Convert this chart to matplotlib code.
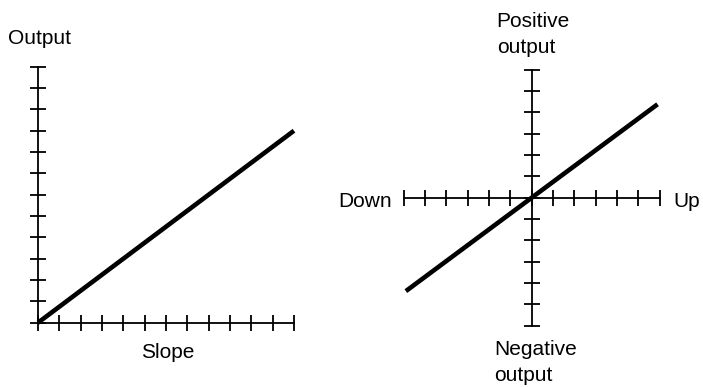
import matplotlib.pyplot as plt

plt.rcParams['font.family'] = ['Liberation Sans', 'DejaVu Sans']

# left diagram: output against slope (all in tick units)
slope_ticks = list(range(0, 13))
output_ticks = list(range(0, 13))
slope_line_x = [0, 12]
slope_line_y = [0, 9]

# right diagram: up / down against positive / negative output
updown_ticks = list(range(-6, 7))
posneg_ticks = list(range(-6, 7))
updown_line_x = [-5.9, 5.9]
updown_line_y = [-4.38, 4.38]

W, H = 703, 387
unit = 21.33  # pixels per tick step

fig = plt.figure(figsize=(W / 100, H / 100), dpi=100)

axis_lw = 1.3
tick_ms = 11
line_lw = 3.3
fs = 15


def make_axes(rect, origin_px):
    ax = fig.add_axes(rect)
    x0 = rect[0] * W
    x1 = (rect[0] + rect[2]) * W
    ox, oy = origin_px
    ax.set_xlim((x0 - ox) / unit, (x1 - ox) / unit)
    ax.set_ylim(-(H - oy) / unit, oy / unit)
    ax.axis('off')
    return ax


# ---- left ----
ax = make_axes([0, 0, 0.5, 1], (38, 322.7))
ax.plot([slope_ticks[0], slope_ticks[-1]], [0, 0], color='black', lw=axis_lw)
ax.plot([0, 0], [output_ticks[0], output_ticks[-1]], color='black', lw=axis_lw)
ax.plot(slope_ticks, [0] * len(slope_ticks), ls='none', marker='|',
        ms=tick_ms, mew=axis_lw, color='black')
ax.plot([0] * len(output_ticks), output_ticks, ls='none', marker='_',
        ms=tick_ms, mew=axis_lw, color='black')
ax.plot(slope_line_x, slope_line_y, color='black', lw=line_lw,
        solid_capstyle='butt')
ax.text(-1.41, 13.07, 'Output', fontsize=fs, ha='left', va='baseline')
ax.text(6.09, -1.67, 'Slope', fontsize=fs, ha='center', va='baseline')

# ---- right ----
ax2 = make_axes([0.5, 0, 0.5, 1], (531.7, 197.7))
ax2.plot([updown_ticks[0], updown_ticks[-1]], [0, 0], color='black', lw=axis_lw)
ax2.plot([0, 0], [posneg_ticks[0], posneg_ticks[-1]], color='black', lw=axis_lw)
ax2.plot(updown_ticks, [0] * len(updown_ticks), ls='none', marker='|',
         ms=tick_ms, mew=axis_lw, color='black')
ax2.plot([0] * len(posneg_ticks), posneg_ticks, ls='none', marker='_',
         ms=tick_ms, mew=axis_lw, color='black')
ax2.plot(updown_line_x, updown_line_y, color='black', lw=line_lw,
         solid_capstyle='butt')
ax2.text(-6.56, -0.45, 'Down', fontsize=fs, ha='right', va='baseline')
ax2.text(6.62, -0.45, 'Up', fontsize=fs, ha='left', va='baseline')
# baseline of the last line sets the position of these two-line labels
ax2.text(-1.64, 6.78, 'Positive\noutput', fontsize=fs, ha='left',
         va='baseline', linespacing=1.45)
ax2.text(-1.75, -8.59, 'Negative\noutput', fontsize=fs, ha='left',
         va='baseline', linespacing=1.45)

fig.savefig('out.png', dpi=100)
